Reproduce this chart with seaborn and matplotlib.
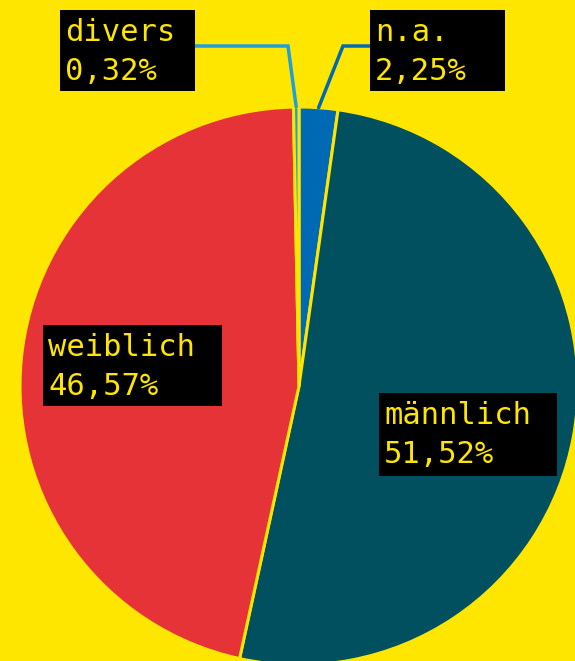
import numpy as np
import seaborn as sns
import matplotlib.pyplot as plt
from matplotlib.patches import Rectangle

# data
labels = ["n.a.", "männlich", "weiblich", "divers"]
values = [2.25, 51.52, 46.57, 0.32]
colors = ["#0069B4", "#00505F", "#E63337", "#1EA0DC"]

BG = "#FFE600"
W, H = 575, 661

sns.set_style("white")
plt.rcParams['font.family'] = ['DejaVu Sans Mono', 'DejaVu Sans']

fig = plt.figure(figsize=(W / 100, H / 100), dpi=100, facecolor=BG)
ax = fig.add_axes([0, 0, 1, 1])
ax.set_facecolor(BG)

cx, cy, r = 299, H - 386, 279
wedges, _ = ax.pie(values, colors=colors, startangle=90, counterclock=False,
                   center=(cx, cy), radius=r, frame=True,
                   wedgeprops=dict(edgecolor=BG, linewidth=2.2))
ax.set_xlim(0, W)
ax.set_ylim(0, H)
ax.set_aspect('equal')
ax.axis('off')


def py(y):
    # pixel row (from top) -> data y
    return H - y


# label boxes: (left, top, width, height) in pixels from top-left
boxes = {
    "n.a.": (370, 10, 135, 81),
    "männlich": (379, 393, 178, 83),
    "weiblich": (43, 325, 179, 81),
    "divers": (60, 10, 135, 81),
}
# connector elbows for the small slices: (elbow x, elbow y, box edge x)
connectors = {
    "n.a.": (343, 46, 370),
    "divers": (288, 46, 195),
}

for w, lab, val, col in zip(wedges, labels, values, colors):
    x0, y0, bw, bh = boxes[lab]
    if lab in connectors:
        ex, ey, bx = connectors[lab]
        ang = np.deg2rad((w.theta1 + w.theta2) / 2)
        ax_, ay_ = cx + r * np.cos(ang), cy + r * np.sin(ang)
        ax.plot([ax_, ex, bx], [ay_, py(ey), py(ey)], color=col, lw=2.5,
                solid_joinstyle='miter', zorder=3)
    ax.add_patch(Rectangle((x0, py(y0 + bh)), bw, bh, facecolor='black',
                           edgecolor='none', zorder=4))
    txt = lab + "\n" + f"{val:.2f}".replace('.', ',') + "%"
    ax.text(x0 + 5, py(y0 + 8), txt, color=BG, fontsize=22, va='top',
            ha='left', linespacing=1.45, zorder=5)

fig.savefig("out.png", dpi=100, facecolor=BG)
